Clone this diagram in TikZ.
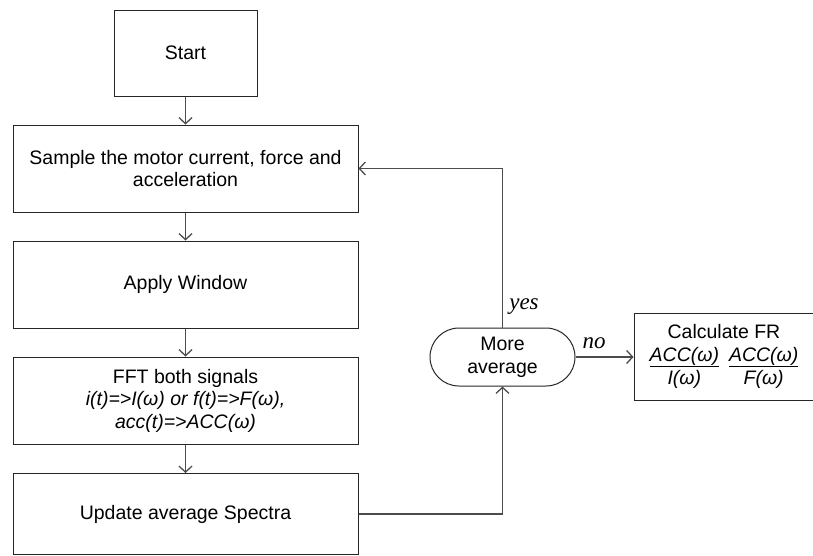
\documentclass[tikz,border=0pt]{standalone}
\usepackage{fontspec}
\setmainfont{Liberation Sans}
\newfontfamily\labelfont{Liberation Serif}
\usetikzlibrary{arrows.meta,shapes.misc}

\tikzset{
  box/.style={draw=black!85, line width=1pt, rectangle, align=center, inner sep=0pt,
    font=\fontsize{19.5}{22.5}\selectfont},
  decision/.style={draw=black!85, line width=1pt, rounded rectangle, align=center, inner sep=0pt,
    font=\fontsize{19.5}{23}\selectfont, minimum width=145pt, minimum height=58pt},
  conn/.style={draw=black!70, line width=1.3pt, -{Straight Barb[length=6pt,width=13pt]}},
  lbl/.style={font=\labelfont\itshape\fontsize{23}{26}\selectfont, inner sep=0pt}
}

\begin{document}
\begin{tikzpicture}[x=1pt,y=-1pt]
\useasboundingbox (0,0) rectangle (813,555);

% main column
\node[box, minimum width=143pt, minimum height=86pt] (start) at (185.5,53) {Start};
\node[box, minimum width=345pt, minimum height=87pt] (sample) at (185.5,168.5) {Sample the motor current, force and\\acceleration};
\node[box, minimum width=345pt, minimum height=87pt] (window) at (185.5,284.5) {Apply Window};
\node[box, minimum width=345pt, minimum height=87pt] (fft) at (185.5,400.5) {FFT both signals\\\itshape i(t)=>I(ω) or f(t)=>F(ω),\\\itshape acc(t)=>ACC(ω)};
\node[box, minimum width=345pt, minimum height=81pt] (update) at (185.5,514) {Update average Spectra};

% decision and result
\node[decision] (more) at (502.5,357) {More\\average};
\node[box, minimum width=180pt, minimum height=87pt] (calc) at (724,356.5) {\renewcommand\arraystretch{1.02}%
  \begin{tabular}{@{}c@{\hspace{10pt}}c@{}}
  \multicolumn{2}{c}{Calculate FR}\\
  \itshape\underline{ACC(ω)} & \itshape\underline{ACC(ω)}\\
  \itshape I(ω) & \itshape F(ω)
  \end{tabular}};

\draw[conn] (start.south) -- (sample.north);
\draw[conn] (sample.south) -- (window.north);
\draw[conn] (window.south) -- (fft.north);
\draw[conn] (fft.south) -- (update.north);
\draw[conn] (update.east) -| (more.south);
\draw[conn] (more.north) |- (sample.east);
\draw[conn] (more.east) -- (more.east -| calc.west);

\node[lbl] (yes) at (524,307) {yes};
\node[lbl] (no) at (594,343) {no};
\end{tikzpicture}
\end{document}
